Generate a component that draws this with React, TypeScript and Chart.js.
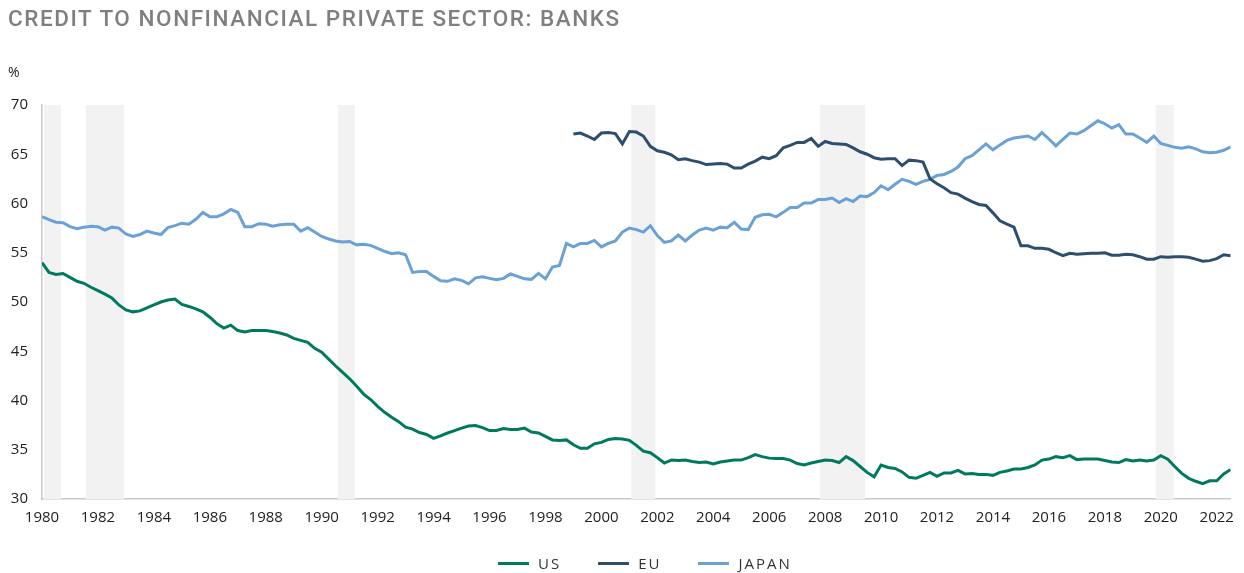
import React, { useEffect, useRef } from "react";
import { Chart, registerables } from "chart.js";

Chart.register(...registerables);

const START_YEAR = 1980;
const QUARTER_COUNT = 171; // 1980Q1 .. 2022Q3
const quarters: number[] = Array.from({ length: QUARTER_COUNT }, (_, i) => START_YEAR + i / 4);

const usValues: number[] = [
  54.0, 53.0, 52.8, 52.9,
  52.5, 52.1, 51.9, 51.5,
  51.15, 50.8, 50.4, 49.7,
  49.2, 49.0, 49.1, 49.4,
  49.7, 50.0, 50.2, 50.3,
  49.75, 49.55, 49.3, 49.0,
  48.45, 47.8, 47.35, 47.65,
  47.1, 46.95, 47.1, 47.1,
  47.1, 47.0, 46.85, 46.65,
  46.3, 46.1, 45.9, 45.3,
  44.9, 44.2, 43.5, 42.85,
  42.2, 41.45, 40.65, 40.1,
  39.4, 38.8, 38.3, 37.85,
  37.3, 37.1, 36.75, 36.55,
  36.15, 36.4, 36.7, 36.95,
  37.2, 37.4, 37.45, 37.25,
  36.95, 36.95, 37.15, 37.05,
  37.05, 37.2, 36.8, 36.7,
  36.35, 36.0, 35.95, 36.0,
  35.5, 35.15, 35.15, 35.6,
  35.75, 36.05, 36.15, 36.1,
  35.95, 35.45, 34.85, 34.7,
  34.2, 33.65, 33.95, 33.9,
  33.95, 33.8, 33.7, 33.75,
  33.55, 33.75, 33.85, 33.95,
  33.95, 34.2, 34.5, 34.3,
  34.15, 34.1, 34.1, 33.95,
  33.6, 33.45, 33.65, 33.8,
  33.95, 33.9, 33.7, 34.3,
  33.9, 33.3, 32.7, 32.25,
  33.45, 33.2, 33.1, 32.75,
  32.2, 32.1, 32.4, 32.7,
  32.3, 32.65, 32.65, 32.9,
  32.55, 32.6, 32.5, 32.5,
  32.4, 32.7, 32.85, 33.05,
  33.05, 33.2, 33.45, 33.95,
  34.05, 34.3, 34.2, 34.4,
  34.0, 34.05, 34.05, 34.05,
  33.9, 33.75, 33.7, 34.0,
  33.85, 33.95, 33.85, 33.95,
  34.4, 34.05, 33.3, 32.6,
  32.1, 31.8, 31.55, 31.85,
  31.85, 32.55, 33.0,
];

const euStartYear = 1999;
const euValues: number[] = [
  67.05, 67.15, 66.85, 66.5,
  67.15, 67.2, 67.1, 66.05,
  67.3, 67.25, 66.85, 65.8,
  65.35, 65.2, 64.95, 64.45,
  64.55, 64.35, 64.2, 63.95,
  64.0, 64.05, 64.0, 63.6,
  63.6, 64.0, 64.3, 64.7,
  64.55, 64.85, 65.65, 65.9,
  66.2, 66.2, 66.6, 65.8,
  66.3, 66.1, 66.05, 66.0,
  65.65, 65.25, 65.0, 64.65,
  64.5, 64.55, 64.55, 63.85,
  64.4, 64.35, 64.2, 62.5,
  62.0, 61.6, 61.1, 60.95,
  60.55, 60.2, 59.9, 59.8,
  59.05, 58.25, 57.9, 57.6,
  55.7, 55.7, 55.45, 55.45,
  55.35, 55.0, 54.7, 54.95,
  54.85, 54.9, 54.95, 54.95,
  55.0, 54.75, 54.75, 54.85,
  54.8, 54.6, 54.35, 54.35,
  54.6, 54.55, 54.6, 54.6,
  54.55, 54.35, 54.15, 54.2,
  54.4, 54.8, 54.7,
];

const japanValues: number[] = [
  58.67, 58.36, 58.1, 58.05,
  57.65, 57.45, 57.6, 57.7,
  57.65, 57.3, 57.6, 57.5,
  56.9, 56.65, 56.85, 57.2,
  57.0, 56.85, 57.55, 57.75,
  58.0, 57.9, 58.4, 59.1,
  58.65, 58.65, 58.95, 59.4,
  59.1, 57.65, 57.65, 57.95,
  57.9, 57.7, 57.85, 57.9,
  57.9, 57.2, 57.55, 57.1,
  56.65, 56.4, 56.2, 56.1,
  56.15, 55.8, 55.85, 55.75,
  55.45, 55.15, 54.9, 55.0,
  54.8, 53.0, 53.1, 53.1,
  52.6, 52.15, 52.1, 52.35,
  52.2, 51.85, 52.45, 52.55,
  52.4, 52.25, 52.4, 52.85,
  52.6, 52.35, 52.3, 52.9,
  52.35, 53.55, 53.7, 55.95,
  55.6, 55.95, 55.95, 56.25,
  55.6, 55.95, 56.2, 57.1,
  57.5, 57.35, 57.1, 57.75,
  56.75, 56.05, 56.2, 56.8,
  56.2, 56.8, 57.3, 57.5,
  57.3, 57.6, 57.55, 58.1,
  57.4, 57.35, 58.6, 58.85,
  58.9, 58.65, 59.1, 59.6,
  59.6, 60.05, 60.05, 60.4,
  60.4, 60.55, 60.1, 60.5,
  60.2, 60.75, 60.7, 61.1,
  61.8, 61.4, 61.95, 62.45,
  62.25, 61.95, 62.25, 62.45,
  62.85, 62.95, 63.25, 63.7,
  64.55, 64.85, 65.45, 66.05,
  65.45, 65.95, 66.4, 66.65,
  66.75, 66.85, 66.5, 67.2,
  66.55, 65.85, 66.5, 67.15,
  67.05, 67.4, 67.9, 68.4,
  68.1, 67.65, 68.0, 67.05,
  67.05, 66.65, 66.2, 66.85,
  66.1, 65.9, 65.7, 65.6,
  65.75, 65.55, 65.25, 65.15,
  65.2, 65.4, 65.75,
];

const recessionStarts: number[] = [1980.07, 1981.57, 1990.57, 2001.07, 2007.82, 2019.82];
const recessionEnds: number[] = [1980.68, 1982.93, 1991.18, 2001.93, 2009.43, 2020.46];

const seriesNames = ["US", "EU", "JAPAN"];
const seriesColors = ["#007a5e", "#2d4e6f", "#6aa1d6"];

const yTicks: number[] = [30, 35, 40, 45, 50, 55, 60, 65, 70];
const xTickStep = 2;

const recessionPlugin = {
  id: "recessionBands",
  beforeDatasetsDraw(chart: any) {
    const { ctx, chartArea, scales } = chart;
    const xs = scales.x;
    ctx.save();
    ctx.fillStyle = "#f2f2f2";
    for (let i = 0; i < recessionStarts.length; i++) {
      const x0 = xs.getPixelForValue(recessionStarts[i]);
      const x1 = xs.getPixelForValue(recessionEnds[i]);
      ctx.fillRect(x0, chartArea.top, x1 - x0, chartArea.bottom - chartArea.top);
    }
    ctx.restore();
  },
};

export default function App() {
  const canvasRef = useRef<HTMLCanvasElement | null>(null);

  useEffect(() => {
    const canvas = canvasRef.current;
    if (!canvas) return;
    const euOffset = (euStartYear - START_YEAR) * 4;
    const chart = new Chart(canvas, {
      type: "line",
      data: {
        datasets: [
          {
            label: seriesNames[0],
            data: usValues.map((v, i) => ({ x: quarters[i], y: v })),
            borderColor: seriesColors[0],
            borderWidth: 3,
            pointRadius: 0,
            tension: 0,
          },
          {
            label: seriesNames[1],
            data: euValues.map((v, i) => ({ x: quarters[i + euOffset], y: v })),
            borderColor: seriesColors[1],
            borderWidth: 3,
            pointRadius: 0,
            tension: 0,
          },
          {
            label: seriesNames[2],
            data: japanValues.map((v, i) => ({ x: quarters[i], y: v })),
            borderColor: seriesColors[2],
            borderWidth: 3,
            pointRadius: 0,
            tension: 0,
          },
        ],
      },
      options: {
        responsive: false,
        animation: false,
        layout: { padding: { top: 105, right: 11, left: 0, bottom: 0 } },
        plugins: {
          legend: { display: false },
          tooltip: { enabled: false },
          title: { display: false },
        },
        scales: {
          x: {
            type: "linear",
            min: START_YEAR,
            max: quarters[QUARTER_COUNT - 1],
            grid: { display: false, drawTicks: false },
            border: { display: true, color: "#c8c8c8", width: 1.5 },
            afterFit: (scale: any) => {
              scale.height = 74;
            },
            afterBuildTicks: (scale: any) => {
              const t: any[] = [];
              for (let v = START_YEAR; v <= quarters[QUARTER_COUNT - 1]; v += xTickStep) t.push({ value: v });
              scale.ticks = t;
            },
            ticks: {
              autoSkip: false,
              maxRotation: 0,
              padding: 10,
              color: "#222222",
              font: { family: "'Open Sans'", size: 15 },
              callback: (v: any) => String(v),
            },
          },
          y: {
            min: 30,
            max: 70,
            grid: { display: false, drawTicks: false },
            border: { display: true, color: "#c8c8c8", width: 1.5 },
            afterFit: (scale: any) => {
              scale.width = 42;
            },
            afterBuildTicks: (scale: any) => {
              scale.ticks = yTicks.map((v) => ({ value: v }));
            },
            ticks: {
              padding: 14,
              color: "#222222",
              font: { family: "'Open Sans'", size: 15 },
              callback: (v: any) => String(v),
            },
          },
        },
      },
      plugins: [recessionPlugin],
    });
    return () => chart.destroy();
  }, []);

  const legendItems = seriesNames.map((n, i) => (
    <div key={n} style={{ display: "flex", alignItems: "center", marginRight: i < 2 ? 37 : 0 }}>
      <span style={{ display: "inline-block", width: 31, height: 3, background: seriesColors[i], marginRight: 9 }} />
      <span style={{ letterSpacing: "2px" }}>{n}</span>
    </div>
  ));

  return (
    <div style={{ position: "absolute", left: 0, top: 0, width: 1244, height: 573, background: "#ffffff", overflow: "hidden" }}>
      <canvas ref={canvasRef} width={1244} height={573} style={{ position: "absolute", left: 0, top: 0 }} />
      <div
        style={{
          position: "absolute",
          left: 8,
          top: 5,
          fontFamily: "Roboto, 'Noto Sans', sans-serif",
          fontWeight: 500,
          fontSize: 22.5,
          lineHeight: "27px",
          letterSpacing: "1.55px",
          color: "#7f7f7f",
          whiteSpace: "nowrap",
        }}
      >
        CREDIT TO NONFINANCIAL PRIVATE SECTOR: BANKS
      </div>
      <div
        style={{
          position: "absolute",
          left: 8,
          top: 62,
          fontFamily: "'Open Sans', sans-serif",
          fontSize: 14,
          color: "#222222",
        }}
      >
        %
      </div>
      <div
        style={{
          position: "absolute",
          left: 498,
          top: 553,
          display: "flex",
          alignItems: "center",
          fontFamily: "'Open Sans', sans-serif",
          fontSize: 15,
          color: "#333333",
          whiteSpace: "nowrap",
        }}
      >
        {legendItems}
      </div>
    </div>
  );
}
